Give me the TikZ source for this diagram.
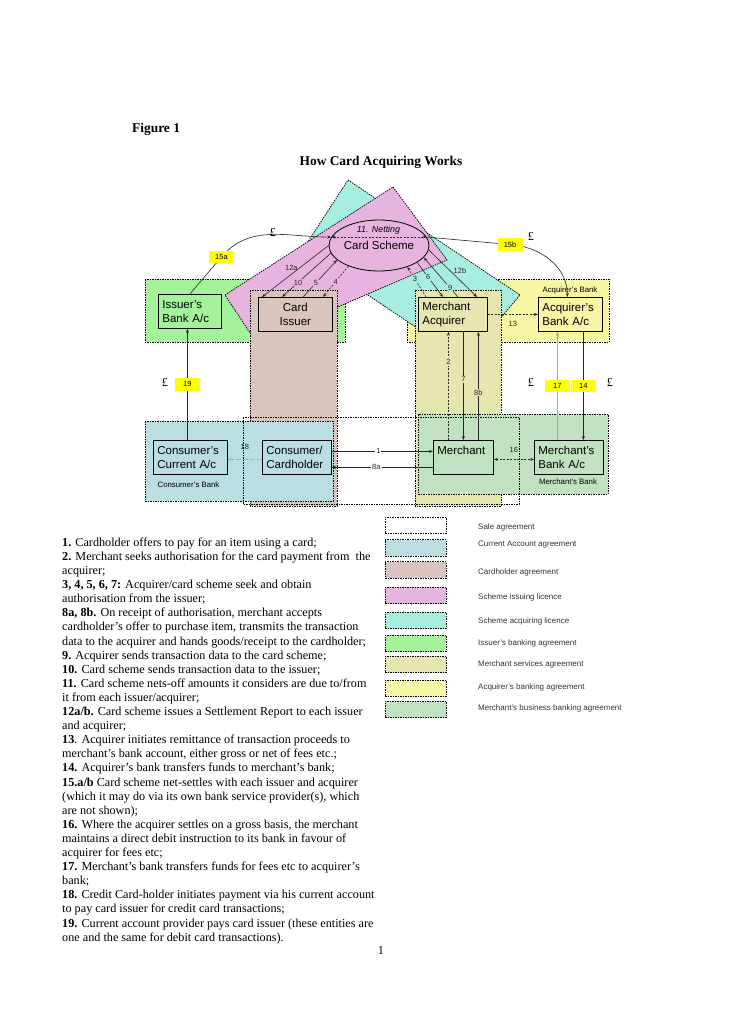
\documentclass[tikz,border=0pt]{standalone}
\usepackage{fontspec}
\setmainfont{Liberation Serif}
\setsansfont{Liberation Sans}
\usepackage{tikz}
\usetikzlibrary{arrows.meta, positioning, calc, shapes.geometric}

\definecolor{curcol}{RGB}{186,222,226}
\definecolor{holdcol}{RGB}{217,196,190}
\definecolor{isscol}{RGB}{230,180,222}
\definecolor{acqcol}{RGB}{168,238,222}
\definecolor{ibankcol}{RGB}{164,242,154}
\definecolor{servcol}{RGB}{230,230,176}
\definecolor{abankcol}{RGB}{246,246,164}
\definecolor{mbankcol}{RGB}{192,226,192}
\definecolor{tagcol}{RGB}{255,255,0}

\begin{document}
\begin{tikzpicture}[
        x=1pt, y=-1pt,
        font=\sffamily,
        every node/.style={inner sep=0pt},
        agree/.style={draw=black, line width=0.7pt, dash pattern=on 1.5pt off 1pt},
        acct/.style={
            rectangle, draw=black, line width=0.8pt,
            anchor=north west, align=left,
            inner xsep=4pt, inner ysep=2pt,
            minimum height=34pt, text width=#1,
            font=\sffamily\fontsize{11.5}{14}\selectfont
        },
        banklbl/.style={font=\sffamily\fontsize{7.8}{9}\selectfont},
        numlbl/.style={font=\sffamily\fontsize{7.5}{9}\selectfont, inner sep=1pt},
        tagbox/.style={fill=tagcol, text=black, font=\sffamily\fontsize{7.5}{9}\selectfont,
            minimum width=25pt, minimum height=12.5pt},
        pound/.style={font=\rmfamily\fontsize{12.2}{14}\selectfont},
        arr/.style={-{Stealth[length=4pt,width=3pt]}, line width=0.6pt, black!85},
        darr/.style={arr, dash pattern=on 2pt off 1.5pt},
        ddarr/.style={darr, {Stealth[length=4pt,width=3pt]}-{Stealth[length=4pt,width=3pt]}},
        legbox/.style={agree, minimum width=61pt, minimum height=16.5pt},
        legtext/.style={anchor=west, font=\sffamily\fontsize{8}{9}\selectfont, text=black!80}
    ]
    \useasboundingbox (0,0) rectangle (728,1030);
    \fill[white] (0,0) rectangle (728,1030);

    \node[anchor=west, font=\rmfamily\bfseries\fontsize{13.4}{16}\selectfont] (fig) at (132,129) {Figure 1};
    \node[font=\rmfamily\bfseries\fontsize{13.4}{16}\selectfont] (title) at (381,162) {How Card Acquiring Works};

    % agreements
    \draw[agree, fill=ibankcol] (145,279) rectangle (345,342);
    \draw[agree, fill=abankcol] (407,279) rectangle (609,342);
    \draw[agree, fill=acqcol] (348,180) -- (520,295) -- (465,360) -- (302,251) -- cycle;
    \draw[agree, fill=isscol] (393,187) -- (447,260) -- (256,342) -- (225,295) -- cycle;
    \draw[agree, fill=holdcol] (250,290) rectangle (337,506);
    \draw[agree, fill=servcol] (415,290) rectangle (501,506);
    \draw[agree, fill=curcol] (145,421) rectangle (333,501);
    \draw[agree, fill=mbankcol] (418,414) rectangle (608,494);
    \draw[agree] (243,417) rectangle (519,504);

    \node[banklbl] (abanklbl) at (570,290) {Acquirer's Bank};
    \node[banklbl] (cbanklbl) at (188.5,485) {Consumer's Bank};
    \node[banklbl] (mbanklbl) at (568,482) {Merchant's Bank};

    % parties
    \node[acct=55pt, fill=ibankcol] (issbank) at (158,294) {Issuer's\\Bank A/c};
    \node[acct=66pt, fill=holdcol, align=center] (cissuer) at (258,297) {Card\\Issuer};
    \node[acct=61pt, fill=servcol] (macq) at (418,297) {Merchant\\Acquirer};
    \node[acct=56pt, fill=abankcol] (abank) at (538,297) {Acquirer's\\Bank A/c};
    \node[acct=66pt, fill=curcol] (curacct) at (153,440) {Consumer's\\Current A/c};
    \node[acct=61pt, fill=curcol] (holder) at (262,440) {Consumer/\\Cardholder};
    \node[acct=52pt, fill=mbankcol] (merchant) at (433,440) {Merchant\\\mbox{}};
    \node[acct=61pt, fill=mbankcol] (mbank) at (534,440) {Merchant's\\Bank A/c};

    \node[ellipse, draw=black, line width=0.8pt, minimum width=100pt, minimum height=51pt] (scheme) at (379,245.5) {};
    \node[font=\sffamily\itshape\fontsize{8.9}{10}\selectfont] (netting) at (378.5,230.5) {11. Netting};
    \node[font=\sffamily\fontsize{11.5}{13}\selectfont] (schemelbl) at (379,245) {Card Scheme};

    % settlement
    \coordinate (k15a) at (221.5,257);
    \coordinate (k15b) at (510,244.5);
    \draw[arr] (issbank.north) -- (k15a) node[tagbox] (t15a) {15a} to[out=50,in=180] (scheme.170);
    \draw[arr] (scheme.10) -- (k15b) node[tagbox] (t15b) {15b} to[out=-4,in=90] ([xshift=-3pt]abank.north);
    \draw[ddarr] (scheme.170) -- (scheme.10);
    \node[pound] (p1) at (273,232) {£};
    \node[pound] (p2) at (531,236) {£};

    % issuer side
    \draw[arr] (scheme.180) -- node[pos=0.43, left=1pt, numlbl] (n12a) {12a} ([xshift=4pt]cissuer.north west);
    \draw[arr] (scheme.189) -- node[pos=0.67, numlbl, fill=isscol] (n10) {10} ([xshift=24pt]cissuer.north west);
    \draw[arr] ([xshift=45pt]cissuer.north west) -- node[pos=0.38, numlbl, fill=isscol] (n5) {5} (scheme.199);
    \draw[darr] (scheme.214) -- node[pos=0.5, numlbl, fill=isscol] (n4) {4} ([xshift=65pt]cissuer.north west);

    % acquirer side
    \draw[darr] ([xshift=8pt]macq.north west) -- node[pos=0.6, numlbl, fill=acqcol] (n3) {3} (scheme.323);
    \draw[arr] (scheme.336) -- node[pos=0.43, numlbl, fill=acqcol] (n6) {6} ([xshift=25pt]macq.north west);
    \draw[arr] ([xshift=40pt]macq.north west) -- node[pos=0.23, numlbl, fill=acqcol] (n9) {9} (scheme.345);
    \draw[arr] (scheme.355) -- node[pos=0.45, right=2pt, numlbl] (n12b) {12b} ([xshift=59pt]macq.north west);
    \draw[darr] (macq.east) -- node[below=6pt, numlbl] (n13) {13} (macq.east -| abank.west);

    % merchant and acquirer
    \draw[darr] ([xshift=-15pt]merchant.north) -- node[pos=0.72, numlbl, fill=servcol] (n2) {2} ([xshift=-15pt]merchant.north |- macq.south);
    \draw[arr] (merchant.north |- macq.south) -- node[pos=0.44, numlbl, fill=servcol] (n7) {7} (merchant.north);
    \draw[arr] ([xshift=15pt]merchant.north) -- node[pos=0.44, numlbl, fill=servcol] (n8b) {8b} ([xshift=15pt]merchant.north |- macq.south);

    % banks
    \draw[arr, draw=gray!70, line width=1.8pt] ([xshift=-11.5pt]mbank.north) -- node[pos=0.5, tagbox] (t17) {17} ([xshift=-11.5pt]mbank.north |- abank.south);
    \draw[arr] ([xshift=14.5pt]mbank.north |- abank.south) -- node[pos=0.5, tagbox] (t14) {14} ([xshift=14.5pt]mbank.north);
    \draw[arr] ([xshift=-3pt]curacct.north) -- node[pos=0.5, tagbox] (t19) {19} ([xshift=-3pt]curacct.north |- issbank.south);
    \node[pound] (p3) at (165,382) {£};
    \node[pound] (p4) at (531,382) {£};
    \node[pound] (p5) at (610,382) {£};

    % sale
    \draw[arr] ([yshift=6pt]holder.east) -- node[pos=0.46, numlbl, fill=white] (n1) {1} ([yshift=6pt]holder.east -| merchant.west);
    \draw[arr] ([yshift=-10pt]merchant.west) -- node[pos=0.56, numlbl, fill=white] (n8a) {8a} ([yshift=-10pt]merchant.west -| holder.east);
    \draw[ddarr] ([yshift=-2pt]merchant.east) -- node[above=6pt, numlbl] (n16) {16} ([yshift=-2pt]merchant.east -| mbank.west);
    \draw[darr, draw=gray!70] ([yshift=-2pt]holder.west) -- node[above=9pt, numlbl] (n18) {18} ([yshift=-2pt]holder.west -| curacct.east);

    % key
    \foreach \i/\c/\by/\ty/\t in {
            1/white/525.5/527/Sale agreement,
            2/curcol/548/545/Current Account agreement,
            3/holdcol/570/572/Cardholder agreement,
            4/isscol/595.5/597/Scheme issuing licence,
            5/acqcol/620.5/621/Scheme acquiring licence,
            6/ibankcol/643.5/643/Issuer's banking agreement,
            7/servcol/664.5/664/Merchant services agreement,
            8/abankcol/688.5/687/Acquirer's banking agreement,
            9/mbankcol/709.5/708/Merchant's business banking agreement}{
        \node[legbox, fill=\c] (leg\i) at (415.5,\by) {};
        \node[legtext] (legt\i) at (478,\ty) {\t};
    }

    \node[anchor=north west, align=left, font=\rmfamily\fontsize{12.2}{14.1}\selectfont] (notes) at (62,537.5) {%
        \textbf{1.} Cardholder offers to pay for an item using a card;\\
        \textbf{2.} Merchant seeks authorisation for the card payment from\ \ the\\
        acquirer;\\
        \textbf{3, 4, 5, 6, 7:} Acquirer/card scheme seek and obtain\\
        authorisation from the issuer;\\
        \textbf{8a, 8b.} On receipt of authorisation, merchant accepts\\
        cardholder's offer to purchase item, transmits the transaction\\
        data to the acquirer and hands goods/receipt to the cardholder;\\
        \textbf{9.} Acquirer sends transaction data to the card scheme;\\
        \textbf{10.} Card scheme sends transaction data to the issuer;\\
        \textbf{11.} Card scheme nets-off amounts it considers are due to/from\\
        it from each issuer/acquirer;\\
        \textbf{12a/b.} Card scheme issues a Settlement Report to each issuer\\
        and acquirer;\\
        \textbf{13}. Acquirer initiates remittance of transaction proceeds to\\
        merchant's bank account, either gross or net of fees etc.;\\
        \textbf{14.} Acquirer's bank transfers funds to merchant's bank;\\
        \textbf{15.a/b} Card scheme net-settles with each issuer and acquirer\\
        (which it may do via its own bank service provider(s), which\\
        are not shown);\\
        \textbf{16.} Where the acquirer settles on a gross basis, the merchant\\
        maintains a direct debit instruction to its bank in favour of\\
        acquirer for fees etc;\\
        \textbf{17.} Merchant's bank transfers funds for fees etc to acquirer's\\
        bank;\\
        \textbf{18.} Credit Card-holder initiates payment via his current account\\
        to pay card issuer for credit card transactions;\\
        \textbf{19.} Current account provider pays card issuer (these entities are\\
        one and the same for debit card transactions).};

    \node[font=\rmfamily\fontsize{12.2}{14}\selectfont] (pageno) at (381,950) {1};
\end{tikzpicture}
\end{document}
